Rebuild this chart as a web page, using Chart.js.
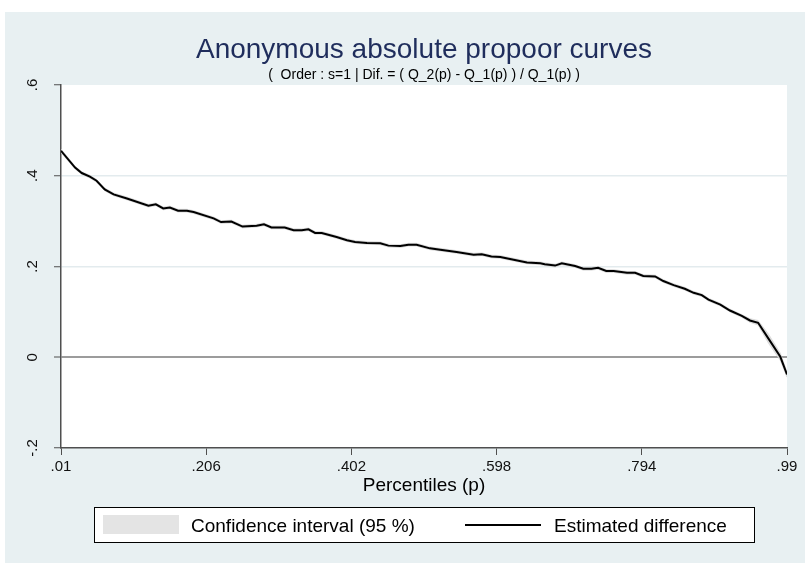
<!DOCTYPE html>
<html>
<head>
<meta charset="utf-8">
<script src="https://cdn.jsdelivr.net/npm/chart.js@4.4.1/dist/chart.umd.min.js"></script>
<style>
  html, body { margin: 0; padding: 0; background: #ffffff; }
  canvas { display: block; }
</style>
</head>
<body>
<canvas id="propoorChart" width="805" height="563"></canvas>
<script>
// Percentiles (p)
const percentiles = [0.010, 0.029, 0.038, 0.049, 0.058, 0.069, 0.081, 0.099, 0.128, 0.138,
  0.148, 0.157, 0.168, 0.180, 0.189, 0.216, 0.226, 0.240, 0.255, 0.274,
  0.284, 0.294, 0.312, 0.324, 0.335, 0.344, 0.353, 0.362, 0.382, 0.396,
  0.407, 0.423, 0.441, 0.452, 0.468, 0.479, 0.490, 0.508, 0.522, 0.544,
  0.567, 0.578, 0.591, 0.603, 0.621, 0.639, 0.657, 0.663, 0.677, 0.686,
  0.704, 0.715, 0.726, 0.735, 0.746, 0.756, 0.774, 0.785, 0.796, 0.812,
  0.823, 0.837, 0.852, 0.864, 0.875, 0.884, 0.900, 0.913, 0.929, 0.940,
  0.951, 0.965, 0.981, 0.990];

// Estimated difference ( Q_2(p) - Q_1(p) ) / Q_1(p)
const estimatedDiff = [0.455, 0.418, 0.406, 0.398, 0.389, 0.370, 0.359, 0.350, 0.334, 0.337,
  0.328, 0.330, 0.323, 0.323, 0.320, 0.306, 0.298, 0.299, 0.288, 0.290,
  0.293, 0.286, 0.286, 0.280, 0.280, 0.282, 0.274, 0.274, 0.265, 0.258,
  0.254, 0.252, 0.251, 0.246, 0.245, 0.248, 0.248, 0.240, 0.237, 0.232,
  0.226, 0.227, 0.222, 0.221, 0.215, 0.209, 0.207, 0.205, 0.202, 0.207,
  0.201, 0.195, 0.195, 0.197, 0.190, 0.190, 0.186, 0.186, 0.179, 0.178,
  0.168, 0.159, 0.151, 0.142, 0.137, 0.127, 0.116, 0.103, 0.091, 0.081,
  0.076, 0.041, 0.001, -0.038];

// Half width of the 95 % confidence band (barely visible except at the top end)
const ciHalfWidth = [0.004, 0.003, 0.003, 0.003, 0.003, 0.003, 0.003, 0.003, 0.003, 0.003,
  0.003, 0.003, 0.003, 0.003, 0.003, 0.003, 0.003, 0.003, 0.003, 0.003,
  0.003, 0.003, 0.003, 0.003, 0.003, 0.003, 0.003, 0.003, 0.003, 0.003,
  0.003, 0.003, 0.003, 0.003, 0.003, 0.003, 0.003, 0.003, 0.003, 0.003,
  0.003, 0.003, 0.003, 0.003, 0.003, 0.003, 0.003, 0.003, 0.003, 0.003,
  0.003, 0.003, 0.003, 0.003, 0.003, 0.003, 0.003, 0.003, 0.003, 0.003,
  0.003, 0.003, 0.003, 0.003, 0.003, 0.003, 0.003, 0.003, 0.003, 0.004,
  0.005, 0.010, 0.008, 0.006];

const xTicks = [0.01, 0.206, 0.402, 0.598, 0.794, 0.99];
const xTickLabels = ['.01', '.206', '.402', '.598', '.794', '.99'];
const yTicks = [-0.2, 0, 0.2, 0.4, 0.6];
const yTickLabels = ['-.2', '0', '.2', '.4', '.6'];

const titleText = 'Anonymous absolute propoor curves';
const subtitleText = '(  Order : s=1 | Dif. = ( Q_2(p) - Q_1(p) ) / Q_1(p) )';
const xTitleText = 'Percentiles (p)';
const legendLabels = ['Confidence interval (95 %)', 'Estimated difference'];

const FONT = '"Liberation Sans", Arial, Helvetica, sans-serif';
const BG = '#e8f0f2';
const AXIS = '#4f4f4f';

const linePoints = percentiles.map((p, i) => ({ x: p, y: estimatedDiff[i] }));
const ciUpper = percentiles.map((p, i) => ({ x: p, y: estimatedDiff[i] + ciHalfWidth[i] }));
const ciLower = percentiles.map((p, i) => ({ x: p, y: estimatedDiff[i] - ciHalfWidth[i] }));

// Stata style frame: background, titles, boxed legend
const stataFrame = {
  id: 'stataFrame',
  beforeDraw(chart) {
    const { ctx, chartArea: a } = chart;
    ctx.save();
    ctx.fillStyle = '#ffffff';
    ctx.fillRect(0, 0, chart.width, chart.height);
    ctx.fillStyle = BG;
    ctx.fillRect(5, 12, chart.width - 5, chart.height - 12);
    ctx.fillStyle = '#ffffff';
    ctx.fillRect(a.left, a.top, a.right - a.left, a.bottom - a.top);
    ctx.restore();
  },
  afterDraw(chart) {
    const { ctx, chartArea: a } = chart;
    const cx = (a.left + a.right) / 2;
    ctx.save();
    ctx.textAlign = 'center';
    ctx.textBaseline = 'alphabetic';
    ctx.fillStyle = '#1f2d5c';
    ctx.font = '28px ' + FONT;
    ctx.fillText(titleText, cx, 58);
    ctx.fillStyle = '#000000';
    ctx.font = '14px ' + FONT;
    ctx.fillText(subtitleText, cx, 79);
    ctx.font = '19px ' + FONT;
    ctx.fillText(xTitleText, cx, 491);

    // legend box
    ctx.fillStyle = '#ffffff';
    ctx.fillRect(94, 507, 660, 35);
    ctx.strokeStyle = '#000000';
    ctx.lineWidth = 1;
    ctx.strokeRect(94.5, 507.5, 660, 35);
    ctx.fillStyle = '#e4e4e4';
    ctx.fillRect(103, 515, 76, 19);
    ctx.beginPath();
    ctx.moveTo(465, 525);
    ctx.lineTo(541, 525);
    ctx.lineWidth = 2;
    ctx.strokeStyle = '#000000';
    ctx.stroke();
    ctx.fillStyle = '#000000';
    ctx.textAlign = 'left';
    ctx.font = '19px ' + FONT;
    ctx.fillText(legendLabels[0], 191, 532);
    ctx.fillText(legendLabels[1], 554, 532);
    ctx.restore();
  }
};

new Chart(document.getElementById('propoorChart'), {
  type: 'line',
  data: {
    datasets: [
      {
        label: legendLabels[1],
        data: linePoints,
        borderColor: '#000000',
        borderWidth: 2,
        pointRadius: 0,
        tension: 0,
        fill: false
      },
      {
        label: legendLabels[0],
        data: ciUpper,
        borderColor: 'rgba(215,215,215,0.8)',
        borderWidth: 1,
        backgroundColor: 'rgba(215,215,215,0.8)',
        pointRadius: 0,
        tension: 0,
        fill: '+1'
      },
      {
        label: 'ci lower',
        data: ciLower,
        borderColor: 'rgba(215,215,215,0.8)',
        borderWidth: 1,
        pointRadius: 0,
        tension: 0,
        fill: false
      }
    ]
  },
  options: {
    responsive: false,
    animation: false,
    devicePixelRatio: 1,
    layout: { padding: { top: 85, right: 18, bottom: 0, left: 0 } },
    plugins: {
      legend: { display: false },
      title: { display: false },
      tooltip: { enabled: false }
    },
    scales: {
      x: {
        type: 'linear',
        min: 0.01,
        max: 0.99,
        afterBuildTicks: (s) => { s.ticks = xTicks.map(v => ({ value: v })); },
        afterFit: (s) => { s.height = 115; },
        border: { display: true, color: AXIS, width: 1.5 },
        grid: { drawOnChartArea: false, drawTicks: true, tickLength: 7, tickColor: AXIS, tickWidth: 1 },
        ticks: {
          autoSkip: false,
          maxRotation: 0,
          padding: 3,
          color: '#111111',
          font: { family: FONT, size: 15 },
          callback: (v, i) => xTickLabels[i]
        }
      },
      y: {
        min: -0.2,
        max: 0.6,
        afterBuildTicks: (s) => { s.ticks = yTicks.map(v => ({ value: v })); },
        afterFit: (s) => { s.width = 61; },
        border: { display: true, color: AXIS, width: 1.5 },
        grid: {
          drawOnChartArea: true,
          drawTicks: true,
          tickLength: 7,
          tickColor: AXIS,
          tickWidth: 1,
          color: (c) => {
            const v = c.tick ? c.tick.value : null;
            if (v === 0) return '#9c9c9c';
            if (v === 0.2 || v === 0.4) return '#e3ebee';
            return 'rgba(0,0,0,0)';
          },
          lineWidth: (c) => (c.tick && c.tick.value === 0 ? 2 : 1.5)
        },
        ticks: {
          autoSkip: false,
          minRotation: 90,
          maxRotation: 90,
          crossAlign: 'center',
          padding: 12,
          color: '#111111',
          font: { family: FONT, size: 15 },
          callback: (v, i) => yTickLabels[i]
        }
      }
    }
  },
  plugins: [stataFrame]
});
</script>
</body>
</html>
